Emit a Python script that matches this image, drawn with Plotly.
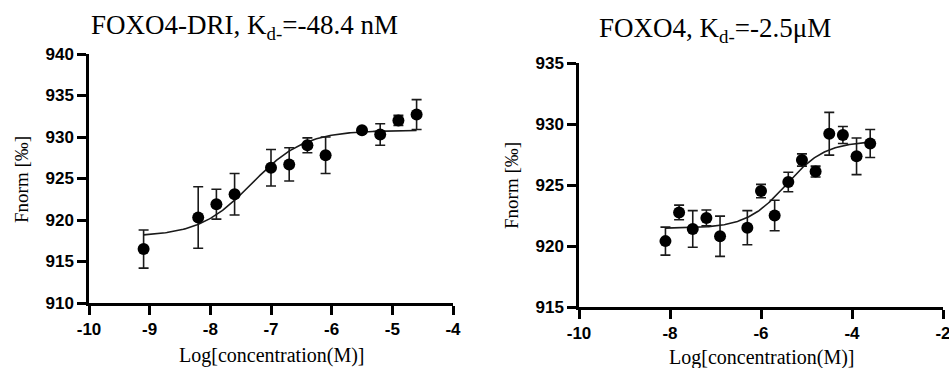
import numpy as np
import plotly.graph_objects as go

# ---- Left panel: FOXO4-DRI ----
left_x = [-9.1, -8.2, -7.9, -7.6, -7.0, -6.7, -6.4, -6.1, -5.5, -5.2, -4.9, -4.6]
left_y = [916.5, 920.3, 921.9, 923.1, 926.3, 926.7, 929.0, 927.8, 930.8, 930.3, 932.0, 932.7]
left_err = [2.3, 3.7, 1.8, 2.5, 2.2, 2.0, 0.9, 2.2, 0.3, 1.3, 0.6, 1.8]
left_fit = dict(bottom=918.0, top=930.8, logkd=-7.315, hill=1.0)

# ---- Right panel: FOXO4 ----
right_x = [-8.1, -7.8, -7.5, -7.2, -6.9, -6.3, -6.0, -5.7, -5.4, -5.1, -4.8, -4.5, -4.2, -3.9, -3.6]
right_y = [920.4, 922.75, 921.4, 922.3, 920.8, 921.5, 924.5, 922.5, 925.25, 927.05, 926.1, 929.2, 929.1, 927.35, 928.4]
right_err = [1.15, 0.6, 1.5, 0.65, 1.65, 1.4, 0.55, 1.25, 0.8, 0.5, 0.45, 1.75, 0.7, 1.5, 1.15]
right_fit = dict(bottom=921.45, top=928.6, logkd=-5.45, hill=1.0)

left_xticks = [-10, -9, -8, -7, -6, -5, -4]
left_yticks = [910, 915, 920, 925, 930, 935, 940]
right_xticks = [-10, -8, -6, -4, -2]
right_yticks = [915, 920, 925, 930, 935]

left_title = "FOXO4-DRI, K<sub>d-</sub>=-48.4 nM"
right_title = "FOXO4, K<sub>d-</sub>=-2.5μM"
y_title = "Fnorm [‰]"
x_title = "Log[concentration(M)]"


def hill_curve(xs, p):
    xx = np.linspace(min(xs), max(xs), 200)
    yy = p["bottom"] + (p["top"] - p["bottom"]) / (1 + 10 ** ((p["logkd"] - xx) * p["hill"]))
    return xx, yy


W, H = 949, 368
fig = go.Figure()

for xs, ys, es, fit, xa, ya in [
    (left_x, left_y, left_err, left_fit, "x", "y"),
    (right_x, right_y, right_err, right_fit, "x2", "y2"),
]:
    cx, cy = hill_curve(xs, fit)
    fig.add_trace(go.Scatter(x=cx, y=cy, mode="lines", line=dict(color="#1a1a1a", width=1.6),
                             xaxis=xa, yaxis=ya, showlegend=False, hoverinfo="skip"))
    fig.add_trace(go.Scatter(x=xs, y=ys, mode="markers",
                             marker=dict(color="black", size=12),
                             error_y=dict(type="data", array=es, visible=True, color="#1a1a1a",
                                          thickness=1.6, width=5),
                             xaxis=xa, yaxis=ya, showlegend=False))

tickfont = dict(family="Liberation Sans, Arial", size=17, color="black", weight="bold")
axis_common = dict(showline=True, linewidth=2.5, linecolor="black", ticks="outside",
                   ticklen=9, tickwidth=2.5, tickcolor="black", showgrid=False,
                   zeroline=False, tickfont=tickfont, automargin=False,
                   ticklabeloverflow="allow")

def px_x(a, b):
    return [a / W, b / W]

def px_y(top, bottom):
    return [(H - bottom) / H, (H - top) / H]

def tt(vals):
    return [str(v) for v in vals]

fig.update_layout(
    width=W, height=H,
    margin=dict(l=0, r=0, t=0, b=0, autoexpand=False),
    paper_bgcolor="white", plot_bgcolor="white",
    xaxis=dict(domain=px_x(89, 453), range=[-10, -4], tickvals=left_xticks, ticktext=tt(left_xticks),
               anchor="y", **axis_common),
    yaxis=dict(domain=px_y(54, 303), range=[910, 940], tickvals=left_yticks, ticktext=tt(left_yticks),
               anchor="x", **axis_common),
    xaxis2=dict(domain=px_x(579, 943), range=[-10, -2], tickvals=right_xticks, ticktext=tt(right_xticks),
                anchor="y2", **axis_common),
    yaxis2=dict(domain=px_y(63, 307), range=[915, 935], tickvals=right_yticks, ticktext=tt(right_yticks),
                anchor="x2", **axis_common),
)

serif = "Liberation Serif, Times New Roman, serif"
def add_text(text, x, y, size, angle=0):
    return dict(text=text, x=x / W, y=1 - y / H, xref="paper", yref="paper",
                xanchor="center", yanchor="middle", showarrow=False, textangle=angle,
                font=dict(family=serif, size=size, color="black"))

ann = [
    add_text(left_title, 244, 27, 27),
    add_text(right_title, 715, 30, 27),
    add_text(x_title, 271, 355, 20),
    add_text(x_title, 761, 357, 20),
    add_text(y_title, 22, 180, 19, -90),
    add_text(y_title, 512, 185, 19, -90),
]
fig.update_layout(annotations=ann)

fig.write_html("out.html")
